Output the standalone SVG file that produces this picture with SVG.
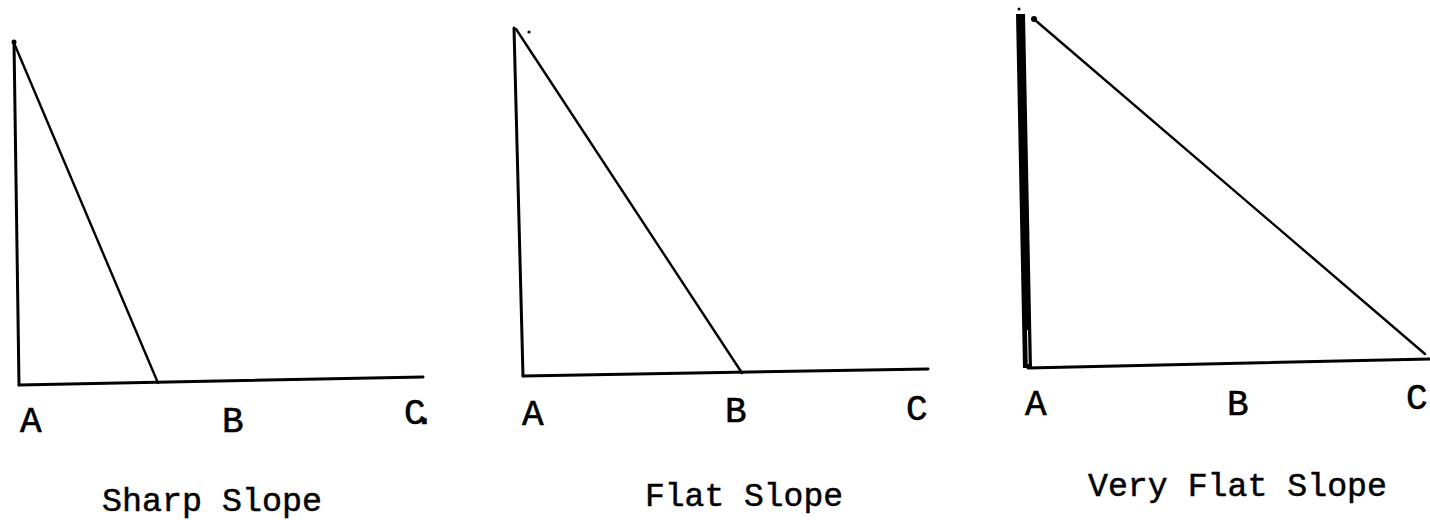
<svg xmlns="http://www.w3.org/2000/svg" width="1430" height="520" viewBox="0 0 1430 520">
<style>
.ln{stroke:#000;fill:none;stroke-linecap:round;stroke-linejoin:round}
.v{stroke-width:3}
.b{stroke-width:3}
.h{stroke-width:2.4}
.lbl{font-family:"Liberation Mono","DejaVu Sans Mono",monospace;font-size:36px;fill:#000;stroke:#000;stroke-width:0.6}
.cap{font-family:"Liberation Mono","DejaVu Sans Mono",monospace;font-size:33px;fill:#000;stroke:#000;stroke-width:0.5}
</style>
<rect width="1430" height="520" fill="#fff"/>
<g id="sharp-slope">
<path class="ln v" d="M14,42 L19,385"/>
<path class="ln b" d="M19,385 L423,377"/>
<path class="ln h" d="M14,43 L158,383"/>
<circle cx="14" cy="42" r="2.5" fill="#000"/>
<text class="lbl" x="20" y="432">A</text>
<text class="lbl" x="222" y="432">B</text>
<text class="lbl" x="404" y="424" letter-spacing="-12">C.</text>
<text class="cap" x="102" y="511" textLength="220" lengthAdjust="spacingAndGlyphs">Sharp Slope</text>
</g>
<g id="flat-slope">
<path class="ln v" d="M514,28 L523,376"/>
<path class="ln b" d="M523,376 L928,369"/>
<path class="ln h" d="M516,29 L742,373"/>
<circle cx="529" cy="32" r="1.6" fill="#000"/>
<text class="lbl" x="522" y="425">A</text>
<text class="lbl" x="725" y="422">B</text>
<text class="lbl" x="906" y="420">C</text>
<text class="cap" x="645" y="506" textLength="198" lengthAdjust="spacingAndGlyphs">Flat Slope</text>
</g>
<g id="very-flat-slope">
<polygon points="1016,14 1025,14 1032,368 1023,368" fill="#000"/>
<path d="M1027.5,330 L1028.2,364" stroke="#fff" stroke-width="1"/>
<circle cx="1019" cy="9" r="1.5" fill="#000"/>
<path class="ln b" d="M1028,368 L1430,359"/>
<path class="ln h" d="M1035,20 L1425,354"/>
<circle cx="1034" cy="19" r="3" fill="#000"/>
<text class="lbl" x="1025" y="415">A</text>
<text class="lbl" x="1227" y="415">B</text>
<text class="lbl" x="1406" y="409">C</text>
<text class="cap" x="1088" y="496" textLength="299" lengthAdjust="spacingAndGlyphs">Very Flat Slope</text>
</g>
</svg>
